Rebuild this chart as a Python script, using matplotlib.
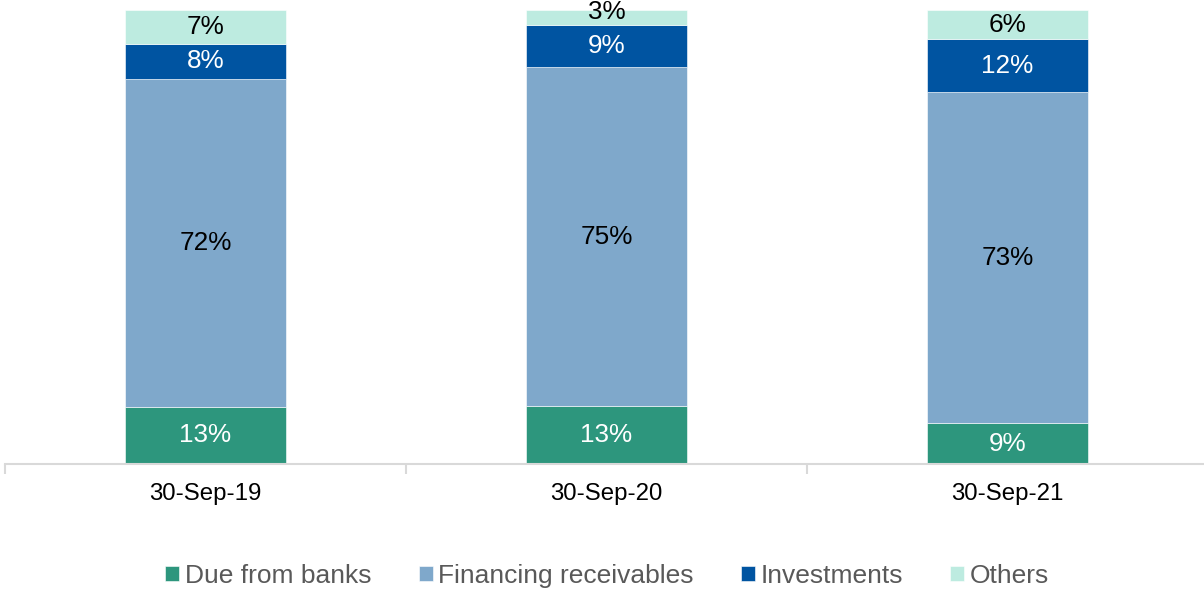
import matplotlib

matplotlib.use("Agg")
import matplotlib.pyplot as plt
import numpy as np

plt.rcParams["font.family"] = ["Liberation Sans", "DejaVu Sans"]

categories = ["30-Sep-19", "30-Sep-20", "30-Sep-21"]
series_names = ["Due from banks", "Financing receivables", "Investments", "Others"]
due_from_banks = [12.6, 12.8, 9.0]
financing = [72.2, 74.6, 72.9]
investments = [7.8, 9.3, 11.7]
others = [7.4, 3.3, 6.4]

colors = ["#2D967D", "#7FA8CB", "#0054A1", "#BDEBE0"]
label_colors = ["white", "black", "white", "black"]

fig = plt.figure(figsize=(12.04, 5.92), dpi=100)
ax = fig.add_axes([5 / 1204, 128 / 592, 1203 / 1204, 454 / 592])

x = np.arange(len(categories))
bottom = np.zeros(len(categories))
handles = []
for vals, name, col, tcol in zip([due_from_banks, financing, investments, others],
                                 series_names, colors, label_colors):
    vals = np.array(vals, dtype=float)
    bars = ax.bar(x, vals, 0.403, bottom=bottom, color=col, label=name,
                  edgecolor="white", linewidth=0.4, zorder=2)
    handles.append(bars)
    for xi, b, v in zip(x, bottom, vals):
        y = b + v / 2
        if v < 5:
            y += 1.1  # small slice: label sits above the centre
        ax.text(xi, y, f"{v:.0f}%", ha="center", va="center", color=tcol,
                fontsize=18.8, clip_on=False, zorder=3)
    bottom += vals

ax.set_xlim(-0.5, len(categories) - 0.5)
ax.set_ylim(0, 100)
ax.set_yticks([])
for s in ["top", "right", "left"]:
    ax.spines[s].set_visible(False)
ax.spines["bottom"].set_color("#D9D9D9")
ax.spines["bottom"].set_linewidth(1.5)

ax.set_xticks(x)
ax.set_xticklabels(categories, fontsize=17.3)
ax.tick_params(axis="x", which="major", length=0, pad=14)
ax.set_xticks(np.arange(-0.5, len(categories)), minor=True)
ax.tick_params(axis="x", which="minor", length=7, color="#D9D9D9", width=1.5)

leg = fig.legend(handles=handles, loc="center", bbox_to_anchor=(607 / 1204, 1 - 576 / 592),
                 ncol=4, frameon=False, handlelength=0.53, handleheight=0.53,
                 handletextpad=0.2, columnspacing=1.8,
                 prop={"size": 19})
for t in leg.get_texts():
    t.set_color("#595959")

fig.savefig("out.png", dpi=100)
